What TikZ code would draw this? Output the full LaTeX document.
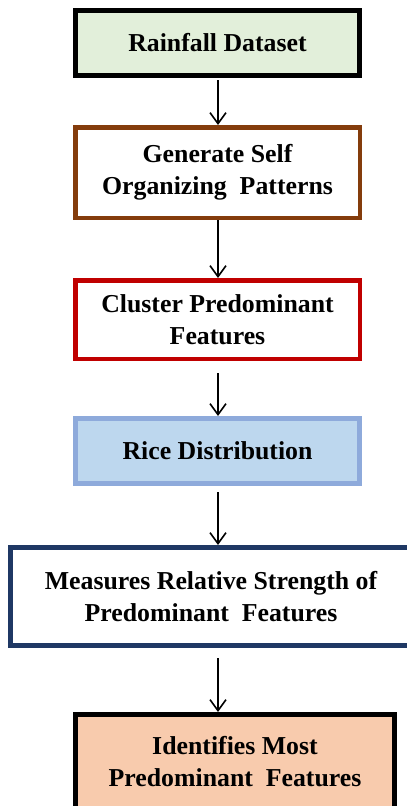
\documentclass[tikz,border=0pt]{standalone}
\usepackage{fontspec}
\setmainfont{Liberation Serif}
\usetikzlibrary{arrows.meta}
\definecolor{boxgreen}{HTML}{E2EFDA}
\definecolor{boxbrown}{HTML}{843C0C}
\definecolor{boxred}{HTML}{C00000}
\definecolor{riceblue}{HTML}{BDD7EE}
\definecolor{riceborder}{HTML}{8EAADB}
\definecolor{navyborder}{HTML}{1F3864}
\definecolor{peach}{HTML}{F8CBAD}
\tikzset{
  flowbox/.style={draw, rectangle, align=center, inner sep=0pt,
    font=\fontsize{25.8}{32}\selectfont\bfseries, text=black},
  flowarrow/.style={draw=black, line width=1.6pt,
    -{Straight Barb[length=11pt,width=16pt,line width=1.6pt]}}
}
\begin{document}
\begin{tikzpicture}[x=1pt,y=-1pt]
\useasboundingbox (0,0) rectangle (407,806);
\clip (0,0) rectangle (407,806);
\fill[white] (0,0) rectangle (407,806);
\coordinate (ax) at (218,0);

\node[flowbox, fill=boxgreen, line width=5pt, minimum width=284pt, minimum height=65pt]
  (b1) at (217.5,43) {Rainfall Dataset};
\node[flowbox, fill=white, draw=boxbrown, line width=4.5pt, minimum width=284.5pt, minimum height=90.5pt]
  (b2) at (217.5,172.5) {Generate Self\\Organizing~ Patterns};
\node[flowbox, fill=white, draw=boxred, line width=4.5pt, minimum width=284.5pt, minimum height=78.5pt]
  (b3) at (217.5,319.5) {Cluster Predominant\\Features};
\node[flowbox, fill=riceblue, draw=riceborder, line width=5pt, minimum width=284pt, minimum height=65pt]
  (b4) at (217.5,451) {Rice Distribution};
\node[flowbox, fill=white, draw=navyborder, line width=5pt, minimum width=401pt, minimum height=98pt]
  (b5) at (211,596.5) {Measures Relative Strength of\\Predominant~ Features};
\node[flowbox, fill=peach, line width=5pt, minimum width=319pt, minimum height=95pt]
  (b6) at (235,762) {Identifies Most\\Predominant~ Features};

\draw[flowarrow, shorten <=2pt] (b1.south -| ax) -- (b2.north -| ax);
\draw[flowarrow] (b2.south -| ax) -- (b3.north -| ax);
\draw[flowarrow, shorten <=12pt] (b3.south -| ax) -- (b4.north -| ax);
\draw[flowarrow, shorten <=6pt] (b4.south -| ax) -- (b5.north -| ax);
\draw[flowarrow, shorten <=10pt] (b5.south -| ax) -- (b6.north -| ax);
\end{tikzpicture}
\end{document}
